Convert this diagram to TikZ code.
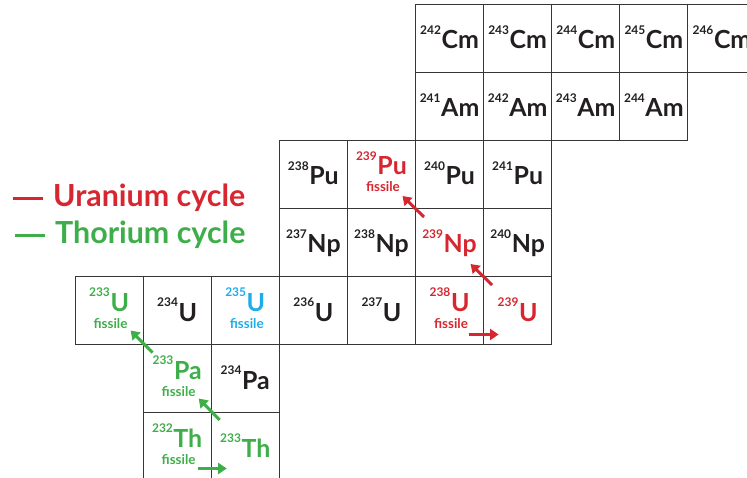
\documentclass[tikz,border=0pt]{standalone}
\usepackage{fontspec}
\setmainfont{Lato}
\usetikzlibrary{arrows.meta,calc}

\definecolor{ured}{HTML}{D7262F}
\definecolor{thgreen}{HTML}{3DAE49}
\definecolor{ublue}{HTML}{1DADEB}
\definecolor{ink}{HTML}{231F20}

% mass number raised in front of the element symbol
\newcommand\iso[2]{\raisebox{14.5bp}{\fontsize{12}{12}\selectfont#1}\kern0.6bp{\fontsize{25}{25}\selectfont#2}}
% coloured dash in front of a legend entry
\newcommand\keydash{\rule[6bp]{30bp}{3bp}\hspace{10bp}}

\tikzset{
  cell/.style={draw=ink!90, line width=1bp, inner sep=0pt,
    minimum width=68.1bp, minimum height=68bp},
  lab/.style={font=\bfseries, inner sep=0pt},
  fiss/.style={font=\bfseries\fontsize{13.5}{13.5}\selectfont, inner sep=0pt, anchor=base},
  legend/.style={font=\bfseries\fontsize{30.5}{32}\selectfont, inner sep=0pt, anchor=base west},
  decay/.style={line width=3bp, -{Triangle[length=8.5bp,width=11bp]}}
}

% name, column, row, mass number, symbol, colour
\newcommand\isotope[6]{%
  \node[cell] (#1) at ({75+68.1*(#2+0.5)},{4.5+68*(#3+0.5)}) {};
  \node[lab, text=#6, anchor=base] (#1-l) at ($(#1.north)+(0,45)$) {\iso{#4}{#5}};
}
% same, with the word "fissile" under the symbol
\newcommand\fissile[6]{%
  \node[cell] (#1) at ({75+68.1*(#2+0.5)},{4.5+68*(#3+0.5)}) {};
  \node[lab, text=#6, anchor=base] (#1-l) at ($(#1.north)+(0,35)$) {\iso{#4}{#5}};
  \node[fiss, text=#6] (#1-f) at ($(#1.north)+(1.5,52)$) {fissile};
}

\begin{document}
\begin{tikzpicture}[x=1bp, y=-1bp]
\useasboundingbox (0,0) rectangle (747,478);

% curium
\isotope{cm242}{5}{0}{242}{Cm}{ink}
\isotope{cm243}{6}{0}{243}{Cm}{ink}
\isotope{cm244}{7}{0}{244}{Cm}{ink}
\isotope{cm245}{8}{0}{245}{Cm}{ink}
\isotope{cm246}{9}{0}{246}{Cm}{ink}
% americium
\isotope{am241}{5}{1}{241}{Am}{ink}
\isotope{am242}{6}{1}{242}{Am}{ink}
\isotope{am243}{7}{1}{243}{Am}{ink}
\isotope{am244}{8}{1}{244}{Am}{ink}
% plutonium
\isotope{pu238}{3}{2}{238}{Pu}{ink}
\fissile{pu239}{4}{2}{239}{Pu}{ured}
\isotope{pu240}{5}{2}{240}{Pu}{ink}
\isotope{pu241}{6}{2}{241}{Pu}{ink}
% neptunium
\isotope{np237}{3}{3}{237}{Np}{ink}
\isotope{np238}{4}{3}{238}{Np}{ink}
\isotope{np239}{5}{3}{239}{Np}{ured}
\isotope{np240}{6}{3}{240}{Np}{ink}
% uranium
\fissile{u233}{0}{4}{233}{U}{thgreen}
\isotope{u234}{1}{4}{234}{U}{ink}
\fissile{u235}{2}{4}{235}{U}{ublue}
\isotope{u236}{3}{4}{236}{U}{ink}
\isotope{u237}{4}{4}{237}{U}{ink}
\fissile{u238}{5}{4}{238}{U}{ured}
\isotope{u239}{6}{4}{239}{U}{ured}
% protactinium
\fissile{pa233}{1}{5}{233}{Pa}{thgreen}
\isotope{pa234}{2}{5}{234}{Pa}{ink}
% thorium
\fissile{th232}{1}{6}{232}{Th}{thgreen}
\isotope{th233}{2}{6}{233}{Th}{thgreen}

% uranium cycle
\draw[decay, ured] ($(u238.south east)+(-15.5,-10.5)$) -- ($(u239.south west)+(15.5,-10.5)$);
\draw[decay, ured] ($(u239.north west)+(9,9)$) -- ($(np239.south east)+(-13.5,-13)$);
\draw[decay, ured] ($(np239.north west)+(9,9)$) -- ($(pu239.south east)+(-13.5,-13)$);

% thorium cycle
\draw[decay, thgreen] ($(th232.south east)+(-14,-12.5)$) -- ($(th233.south west)+(16,-12.5)$);
\draw[decay, thgreen] ($(th233.north west)+(9,8)$) -- ($(pa233.south east)+(-13,-14.5)$);
\draw[decay, thgreen] ($(pa233.north west)+(10,8.5)$) -- ($(u233.south east)+(-13,-14.5)$);

% legend
\node[legend, text=ured] (key-u) at (13,206.5) {\keydash Uranium cycle};
\node[legend, text=thgreen] (key-th) at (15,243.5) {\keydash Thorium cycle};
\end{tikzpicture}
\end{document}
